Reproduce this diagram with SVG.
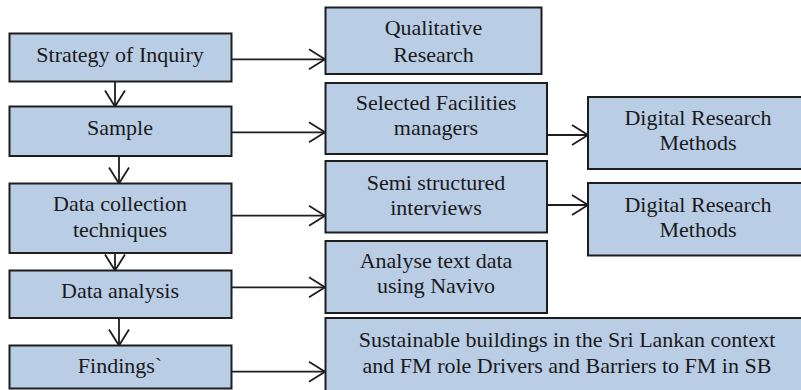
<svg xmlns="http://www.w3.org/2000/svg" width="801" height="390" viewBox="0 0 801 390">
<style>
.box{fill:#b9cde5;stroke:#1e1e1e;stroke-width:2}
.t{font-family:'Liberation Serif','Times New Roman',serif;font-size:22px;fill:#1a1a1a;text-anchor:middle}
.c{stroke:#1e1e1e;stroke-width:1.8;fill:none}
</style>
<defs>
<marker id="ah" markerUnits="userSpaceOnUse" markerWidth="20" markerHeight="22" refX="16" refY="10" orient="auto" overflow="visible">
<path d="M0,0 L16,10 L0,20" fill="none" stroke="#1e1e1e" stroke-width="1.8"/>
</marker>
</defs>
<rect width="801" height="390" fill="#ffffff"/>
<g id="connectors">
<line class="c" x1="231.5" y1="59.3" x2="325" y2="59.3" marker-end="url(#ah)"/>
<line class="c" x1="231.5" y1="132.3" x2="325" y2="132.3" marker-end="url(#ah)"/>
<line class="c" x1="231.5" y1="215.7" x2="325" y2="215.7" marker-end="url(#ah)"/>
<line class="c" x1="231.5" y1="287.3" x2="325" y2="287.3" marker-end="url(#ah)"/>
<line class="c" x1="231.5" y1="371.7" x2="325" y2="371.7" marker-end="url(#ah)"/>
<line class="c" x1="547" y1="135" x2="588" y2="135" marker-end="url(#ah)"/>
<line class="c" x1="547" y1="205" x2="588" y2="205" marker-end="url(#ah)"/>
<line class="c" x1="115" y1="81.5" x2="115" y2="106.5" marker-end="url(#ah)"/>
<line class="c" x1="119" y1="156" x2="119" y2="183.5" marker-end="url(#ah)"/>
<line class="c" x1="115" y1="253" x2="115" y2="270.5" marker-end="url(#ah)"/>
<line class="c" x1="119" y1="318" x2="119" y2="345.5" marker-end="url(#ah)"/>
</g>
<g id="strategy">
<rect class="box" x="9.5" y="33.5" width="222" height="48"/>
<text class="t" x="120" y="62.3">Strategy of Inquiry</text>
</g>
<g id="sample">
<rect class="box" x="9.5" y="106.5" width="222" height="49.5"/>
<text class="t" x="120" y="135">Sample</text>
</g>
<g id="datacollection">
<rect class="box" x="9.5" y="183.5" width="222" height="69.5"/>
<text class="t" x="120" y="210.7">Data collection</text>
<text class="t" x="120" y="236.7">techniques</text>
</g>
<g id="dataanalysis">
<rect class="box" x="9.5" y="270.5" width="222" height="47.5"/>
<text class="t" x="120" y="298.3">Data analysis</text>
</g>
<g id="findings">
<rect class="box" x="9.5" y="345.5" width="222" height="43"/>
<text class="t" x="120" y="373.3">Findings`</text>
</g>
<g id="qualitative">
<rect class="box" x="325.5" y="7.5" width="216" height="66.5"/>
<text class="t" x="433.5" y="35">Qualitative</text>
<text class="t" x="433.5" y="61.7">Research</text>
</g>
<g id="selected">
<rect class="box" x="325.5" y="83" width="221.5" height="71"/>
<text class="t" x="436" y="110">Selected Facilities</text>
<text class="t" x="436" y="135">managers</text>
</g>
<g id="semi">
<rect class="box" x="325.5" y="161" width="221.5" height="71.5"/>
<text class="t" x="436" y="190">Semi structured</text>
<text class="t" x="436" y="215">interviews</text>
</g>
<g id="analyse">
<rect class="box" x="325.5" y="241" width="221.5" height="72"/>
<text class="t" x="436" y="268.3">Analyse text data</text>
<text class="t" x="436" y="293.3">using Navivo</text>
</g>
<g id="sustainable">
<rect class="box" x="325.5" y="318" width="490" height="80"/>
<text class="t" x="567" y="346.7">Sustainable buildings in the Sri Lankan context</text>
<text class="t" x="567" y="372.7">and FM role Drivers and Barriers to FM in SB</text>
</g>
<g id="digital1">
<rect class="box" x="588" y="97" width="220" height="72"/>
<text class="t" x="698" y="125">Digital Research</text>
<text class="t" x="698" y="150">Methods</text>
</g>
<g id="digital2">
<rect class="box" x="588" y="183" width="220" height="72.5"/>
<text class="t" x="698" y="211.7">Digital Research</text>
<text class="t" x="698" y="236.7">Methods</text>
</g>
</svg>
